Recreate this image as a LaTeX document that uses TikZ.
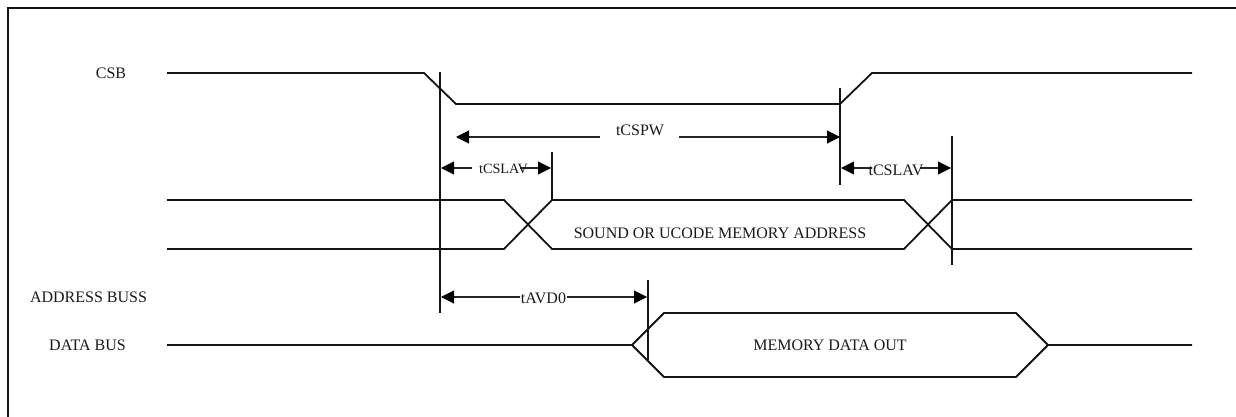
\documentclass[tikz,border=0pt]{standalone}
\usepackage{fontspec}
\setmainfont{Liberation Serif}
\usetikzlibrary{arrows.meta}
\tikzset{
  x=1pt,y=-1pt,
  wave/.style={line width=1.8pt,line join=miter,black!92},
  frameline/.style={line width=2pt,black!92},
  marker/.style={line width=2pt,black!92},
  dim/.style={line width=1.1pt,black!85},
  tip/.style={-{Triangle[length=13pt,width=13pt,black]}},
  lab/.style={inner sep=0pt,font=\fontsize{16}{18}\selectfont,black!90},
  smalllab/.style={lab,font=\fontsize{14.2}{16}\selectfont},
}
\begin{document}
\begin{tikzpicture}
\useasboundingbox (0,0) rectangle (1236,417);
\draw[frameline] (7.5,417) -- (7.5,8.5) -- (1236,8.5);
% waves
\draw[wave] (167,73) -- (424,73) -- (456,104) -- (840,104) -- (872,73) -- (1192,73);
\draw[wave] (167,200) -- (504,200) -- (552,249) -- (904,249) -- (952,200) -- (1192,200);
\draw[wave] (167,249) -- (504,249) -- (552,200) -- (904,200) -- (952,249) -- (1192,249);
\draw[wave] (167,345) -- (632,345) -- (664,313) -- (1016,313) -- (1048,345) -- (1192,345);
\draw[wave] (632,345) -- (664,377) -- (1016,377) -- (1048,345);
% markers
\draw[marker] (440,72) coordinate (a1) -- (440,313) coordinate (a2);
\draw[marker] (552,152) coordinate (b1) -- (552,201) coordinate (b2);
\draw[marker] (840,88) coordinate (c1) -- (840,185) coordinate (c2);
\draw[marker] (952,136) coordinate (d1) -- (952,265) coordinate (d2);
\draw[marker] (648,280) coordinate (e1) -- (648,360) coordinate (e2);
% dimension arrows
\coordinate (p1) at (456,137); \coordinate (p1a) at (600,137);
\coordinate (p2) at (840,137); \coordinate (p2a) at (679,137);
\draw[dim,tip] (p1a) -- (p1);
\draw[dim,tip] (p2a) -- (p2);
\coordinate (q1) at (441,168); \coordinate (q1a) at (472,168);
\coordinate (q2) at (551,168); \coordinate (q2a) at (520,168);
\draw[dim,tip] (q1a) -- (q1);
\draw[dim,tip] (q2a) -- (q2);
\coordinate (r1) at (841,168); \coordinate (r1a) at (872,168);
\coordinate (r2) at (951,168); \coordinate (r2a) at (920,168);
\draw[dim,tip] (r1a) -- (r1);
\draw[dim,tip] (r2a) -- (r2);
\coordinate (s1) at (441,297); \coordinate (s1a) at (520,297);
\coordinate (s2) at (647,297); \coordinate (s2a) at (567,297);
\draw[dim,tip] (s1a) -- (s1);
\draw[dim,tip] (s2a) -- (s2);
% labels
\node[lab] (csb) at (111,73) {CSB};
\node[lab] (addr) at (88.5,297) {ADDRESS BUSS};
\node[lab] (data) at (87.5,345) {DATA BUS};
\node[lab] (sound) at (720,233) {SOUND OR UCODE MEMORY ADDRESS};
\node[lab] (mem) at (830,345) {MEMORY DATA OUT};
\node[lab] (tcspw) at (640,130) {tCSPW};
\node[smalllab] (t1) at (503.5,168.5) {tCSLAV};
\node[lab] (t2) at (896,170) {tCSLAV};
\node[lab] (t3) at (543.5,298) {tAVD0};
\end{tikzpicture}
\end{document}
